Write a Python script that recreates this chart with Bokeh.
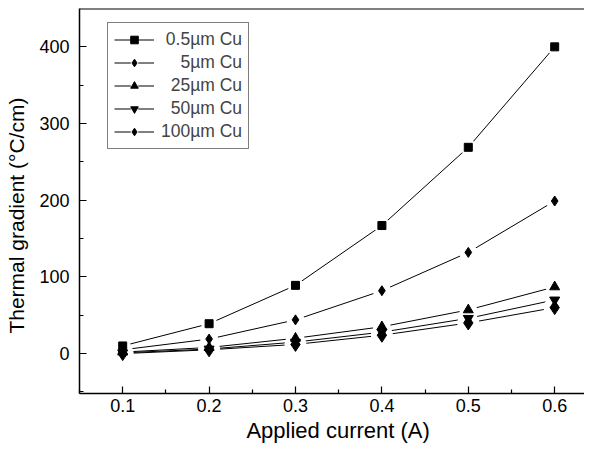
from bokeh.plotting import figure
from bokeh.models import (FixedTicker, Legend, LegendItem, Span)
from bokeh.embed import file_html
from bokeh.resources import INLINE

current = [0.1, 0.2, 0.3, 0.4, 0.5, 0.6]
cu_05 = [10, 39, 89, 167, 269, 400]
cu_5 = [5, 19, 44, 82, 132, 199]
cu_25 = [2, 8, 20, 35, 57, 87]
cu_50 = [1, 6, 15, 28, 46, 70]
cu_100 = [0, 5, 12, 24, 40, 60]

labels = ["\u20080.5\u00b5m Cu", "\u2007\u20075\u00b5m Cu", "\u200725\u00b5m Cu",
          "\u200750\u00b5m Cu", "100\u00b5m Cu"]
series = [cu_05, cu_5, cu_25, cu_50, cu_100]
markers = ["square", "diamond", "triangle", "inverted_triangle", "diamond"]
sizes = [8, 10, 10, 10, 14]

x_ticks = [0.1, 0.2, 0.3, 0.4, 0.5, 0.6]
x_minor = [0.05, 0.15, 0.25, 0.35, 0.45, 0.55]
y_ticks = [0, 100, 200, 300, 400]
y_minor = [-50, 50, 150, 250, 350]

FONT = "Liberation Sans"
NB = "\u00a0"

p = figure(width=584, height=445, x_range=(0.05, 0.6345), y_range=(-52, 450),
           output_backend="svg", toolbar_location=None,
           min_border_left=79, min_border_right=0, min_border_top=8,
           min_border_bottom=49)
p.outline_line_color = None
p.grid.visible = False
p.background_fill_color = "white"

p.xaxis.ticker = FixedTicker(ticks=x_ticks, minor_ticks=x_minor)
p.yaxis.ticker = FixedTicker(ticks=y_ticks, minor_ticks=y_minor)
for ax in (p.xaxis, p.yaxis):
    ax.axis_line_width = 1.5
    ax.axis_line_color = "black"
    ax.major_tick_in = 7
    ax.major_tick_out = 0
    ax.minor_tick_in = 4
    ax.minor_tick_out = 0
    ax.major_tick_line_width = 1.2
    ax.minor_tick_line_width = 1.2
    ax.major_tick_line_color = "black"
    ax.minor_tick_line_color = "black"
    ax.major_label_text_font = FONT
    ax.major_label_text_font_size = "18px"
    ax.major_label_text_color = "black"
    ax.axis_label_text_font = FONT
    ax.axis_label_text_font_style = "normal"
    ax.axis_label_text_color = "black"
p.xaxis.axis_label_text_font_size = "22px"
p.yaxis.axis_label_text_font_size = "21px"
p.xaxis.axis_label = NB * 2 + "Applied current (A)"
p.yaxis.axis_label = "Thermal gradient (\u00b0C/cm)" + NB * 5
p.xaxis.major_label_standoff = 5
p.yaxis.major_label_standoff = 10
p.xaxis.axis_label_standoff = 3
p.yaxis.axis_label_standoff = 8

p.add_layout(Span(location=450, dimension="width", line_color="black", line_width=2))

lines, backs, marks = [], [], []
for ys in series:
    lines.append(p.line(current, ys, line_color="black", line_width=1))
for ys, s in zip(series, sizes):
    backs.append(p.scatter(current, ys, marker="circle", size=s + 8,
                           fill_color="white", line_color=None))
for ys, m, s in zip(series, markers, sizes):
    marks.append(p.scatter(current, ys, marker=m, size=s,
                           fill_color="black", line_color="black"))

items = [LegendItem(label=l, renderers=[ln, bk, mk])
         for l, ln, bk, mk in zip(labels, lines, backs, marks)]
legend = Legend(items=items, location=(28, 244), glyph_width=40,
                glyph_height=19, label_height=19, spacing=2, padding=6,
                label_standoff=7, label_text_font=FONT,
                label_text_font_size="17.5px", border_line_color="black",
                border_line_width=1.5, background_fill_alpha=1)
p.add_layout(legend)

open("out.html", "w").write(file_html(p, INLINE))
